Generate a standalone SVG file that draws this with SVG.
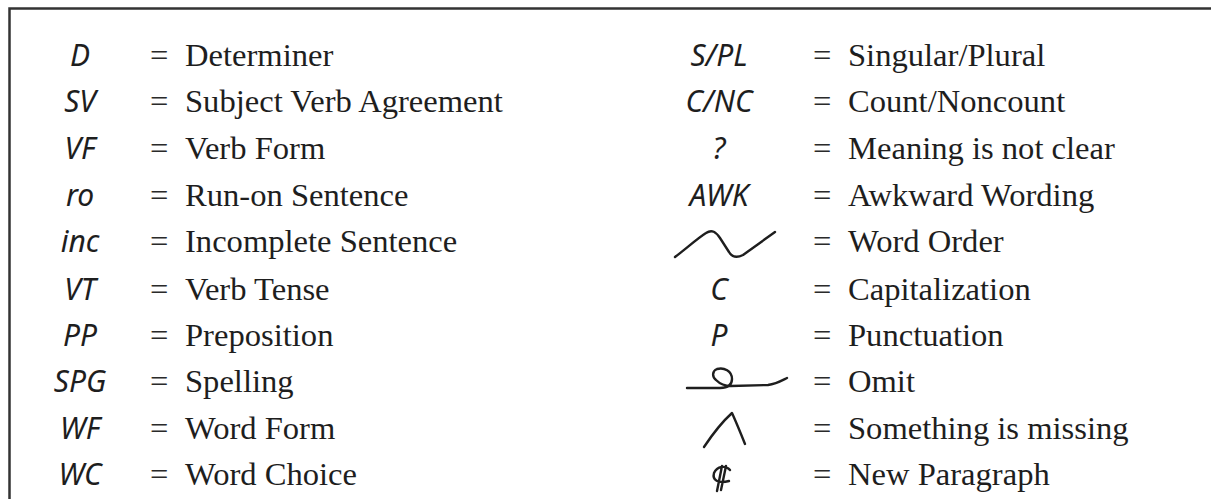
<svg xmlns="http://www.w3.org/2000/svg" width="1211" height="499" viewBox="0 0 1211 499">
  <style>
    .t { font-family: "Liberation Serif", "Times New Roman", serif; font-size: 32.6px; fill: #1e1e1e; }
    .eq { font-family: "Liberation Serif", "Times New Roman", serif; font-size: 32.6px; fill: #2a2a2a; }
    .sym { font-family: "Noto Sans", "DejaVu Sans", sans-serif; font-style: italic; font-size: 30px; fill: #1e1e1e; text-anchor: middle; }
    .mark { fill: none; stroke: #1e1e1e; stroke-width: 2.4; stroke-linecap: round; stroke-linejoin: round; }
    .frame { fill: none; stroke: #333333; stroke-width: 2.5; }
  </style>
  <rect x="0" y="0" width="1211" height="499" fill="#ffffff"/>
  <path class="frame" d="M9.5,499 L9.5,8.5 L1211,8.5"/>

  <g id="left-column">
    <g id="row-determiner">
      <text class="sym" x="80" y="66">D</text>
      <text class="eq" x="150" y="66">=</text>
      <text class="t" x="185" y="66">Determiner</text>
    </g>
    <g id="row-subject-verb">
      <text class="sym" x="80" y="112">SV</text>
      <text class="eq" x="150" y="112">=</text>
      <text class="t" x="185" y="112">Subject Verb Agreement</text>
    </g>
    <g id="row-verb-form">
      <text class="sym" x="80" y="159">VF</text>
      <text class="eq" x="150" y="159">=</text>
      <text class="t" x="185" y="159">Verb Form</text>
    </g>
    <g id="row-run-on">
      <text class="sym" x="80" y="206">ro</text>
      <text class="eq" x="150" y="206">=</text>
      <text class="t" x="185" y="206">Run-on Sentence</text>
    </g>
    <g id="row-incomplete">
      <text class="sym" x="80" y="252">inc</text>
      <text class="eq" x="150" y="252">=</text>
      <text class="t" x="185" y="252">Incomplete Sentence</text>
    </g>
    <g id="row-verb-tense">
      <text class="sym" x="80" y="300">VT</text>
      <text class="eq" x="150" y="300">=</text>
      <text class="t" x="185" y="300">Verb Tense</text>
    </g>
    <g id="row-preposition">
      <text class="sym" x="80" y="346">PP</text>
      <text class="eq" x="150" y="346">=</text>
      <text class="t" x="185" y="346">Preposition</text>
    </g>
    <g id="row-spelling">
      <text class="sym" x="80" y="392">SPG</text>
      <text class="eq" x="150" y="392">=</text>
      <text class="t" x="185" y="392">Spelling</text>
    </g>
    <g id="row-word-form">
      <text class="sym" x="80" y="439">WF</text>
      <text class="eq" x="150" y="439">=</text>
      <text class="t" x="185" y="439">Word Form</text>
    </g>
    <g id="row-word-choice">
      <text class="sym" x="80" y="485">WC</text>
      <text class="eq" x="150" y="485">=</text>
      <text class="t" x="185" y="485">Word Choice</text>
    </g>
  </g>

  <g id="right-column">
    <g id="row-singular-plural">
      <text class="sym" x="719" y="66">S/PL</text>
      <text class="eq" x="813" y="66">=</text>
      <text class="t" x="848" y="66">Singular/Plural</text>
    </g>
    <g id="row-count-noncount">
      <text class="sym" x="719" y="112">C/NC</text>
      <text class="eq" x="813" y="112">=</text>
      <text class="t" x="848" y="112">Count/Noncount</text>
    </g>
    <g id="row-meaning">
      <text class="sym" x="719" y="159">?</text>
      <text class="eq" x="813" y="159">=</text>
      <text class="t" x="848" y="159">Meaning is not clear</text>
    </g>
    <g id="row-awkward">
      <text class="sym" x="719" y="206">AWK</text>
      <text class="eq" x="813" y="206">=</text>
      <text class="t" x="848" y="206">Awkward Wording</text>
    </g>
    <g id="row-word-order">
      <path class="mark" d="M675,257 C688,247 698,238 706,233 C712,229 716,232 720,238 L729,252 C732,257 737,258 743,255 L775,232"/>
      <text class="eq" x="813" y="252">=</text>
      <text class="t" x="848" y="252">Word Order</text>
    </g>
    <g id="row-capitalization">
      <text class="sym" x="719" y="300">C</text>
      <text class="eq" x="813" y="300">=</text>
      <text class="t" x="848" y="300">Capitalization</text>
    </g>
    <g id="row-punctuation">
      <text class="sym" x="719" y="346">P</text>
      <text class="eq" x="813" y="346">=</text>
      <text class="t" x="848" y="346">Punctuation</text>
    </g>
    <g id="row-omit">
      <path class="mark" d="M687,388 L720,388 C726,388 732,386 732,379 C732,371 724,367 717,369 C712,371 712,377 716,380 C720,384 726,386 731,386 L768,385 C776,384 781,381 787,378"/>
      <text class="eq" x="813" y="392">=</text>
      <text class="t" x="848" y="392">Omit</text>
    </g>
    <g id="row-missing">
      <path class="mark" d="M704,447 C712,435 722,422 732,413 C737,424 741,434 745,444"/>
      <text class="eq" x="813" y="439">=</text>
      <text class="t" x="848" y="439">Something is missing</text>
    </g>
    <g id="row-new-paragraph">
      <path class="mark" d="M730,470 C726,465 717,466 714,473 C712,480 718,484 729,481 M722,466 L717,491 M726,466 L721,490" stroke-width="1.8"/>
      <text class="eq" x="813" y="485">=</text>
      <text class="t" x="848" y="485">New Paragraph</text>
    </g>
  </g>
</svg>
